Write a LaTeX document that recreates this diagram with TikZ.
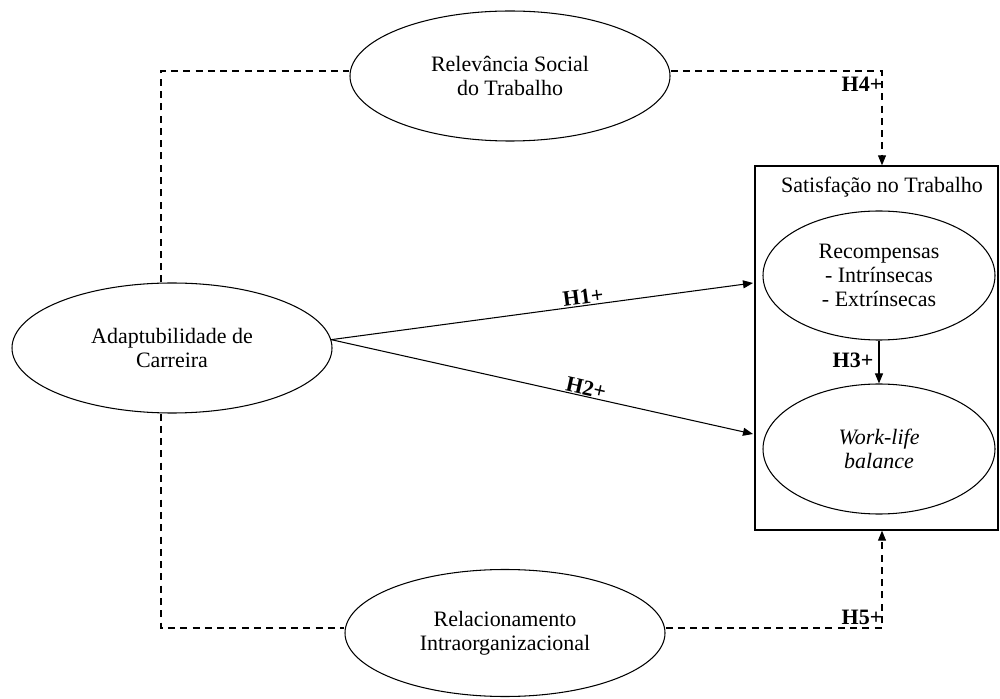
\documentclass[tikz,border=0pt]{standalone}
\usepackage{fontspec}
\setmainfont{Liberation Serif}
\usepackage{tikz}
\usetikzlibrary{shapes.geometric, arrows.meta, positioning, calc}

\begin{document}
\begin{tikzpicture}[
    font=\fontsize{12.5}{13.5}\selectfont,
    construct/.style={ellipse, draw=black, line width=0.6pt, inner sep=0pt, minimum width=6.4cm, minimum height=2.6cm, align=center},
    inner/.style={ellipse, draw=black, line width=0.6pt, inner sep=0pt, minimum width=4.64cm, minimum height=2.6cm, align=center},
    group/.style={rectangle, draw=black, line width=0.8pt, minimum width=4.86cm, minimum height=7.28cm},
    hyp/.style={font=\fontsize{12.5}{13.5}\selectfont\bfseries},
    link/.style={line width=0.6pt},
    dashlink/.style={line width=0.6pt, dash pattern=on 4pt off 3pt},
    >={Triangle[length=2mm, width=1.6mm]}
]

\useasboundingbox (0, 0) rectangle (20, -13.98);

% Outer constructs
\node[construct] (rst) at (10.2, -1.52) {Relevância Social\\do Trabalho};
\node[construct] (adapt) at (3.44, -6.96) {Adaptubilidade de\\Carreira};
\node[construct, minimum height=2.54cm] (rel) at (10.1, -12.66) {Relacionamento\\Intraorganizacional};

% Satisfaction box and its ellipses
\node[group] (sat) at (17.53, -6.96) {};
\node (sattitle) at (17.64, -3.74) {Satisfação no Trabalho};
\node[inner, minimum height=2.58cm] (rec) at (17.58, -5.51) {Recompensas\\- Intrínsecas\\- Extrínsecas};
\node[inner] (wlb) at (17.58, -8.98) {\textit{Work-life}\\\textit{balance}};

% Corners of the dashed paths
\coordinate (tl) at (3.22, -1.42);
\coordinate (tr) at (17.64, -1.42);
\coordinate (bl) at (3.22, -12.56);
\coordinate (br) at (17.64, -12.56);
\coordinate (h1end) at (15.06, -5.66);
\coordinate (h2end) at (15.06, -8.68);

% Direct hypotheses
\draw[link, ->] (adapt.3) -- node[hyp, sloped, above, inner sep=0.5pt, pos=0.6] (h1) {H1+} (h1end);
\draw[link, ->] (adapt.3) -- node[hyp, sloped, above, inner sep=0.5pt, pos=0.6] (h2) {H2+} (h2end);
\draw[link, ->] (rec) -- (wlb);
\node[hyp] (h3) at (17.06, -7.2) {H3+};

% Moderation paths (dashed)
\draw[dashlink] (adapt.north -| tl) -- (tl) -- (tl -| rst.west);
\draw[dashlink, ->] (tl -| rst.east) -- (tr) -- (tr |- sat.north);
\node[hyp] (h4) at (17.24, -1.68) {H4+};

\draw[dashlink] (adapt.south -| bl) -- (bl) -- (bl -| rel.west);
\draw[dashlink, ->] (bl -| rel.east) -- (br) -- (br |- sat.south);
\node[hyp] (h5) at (17.24, -12.34) {H5+};

\end{tikzpicture}
\end{document}
